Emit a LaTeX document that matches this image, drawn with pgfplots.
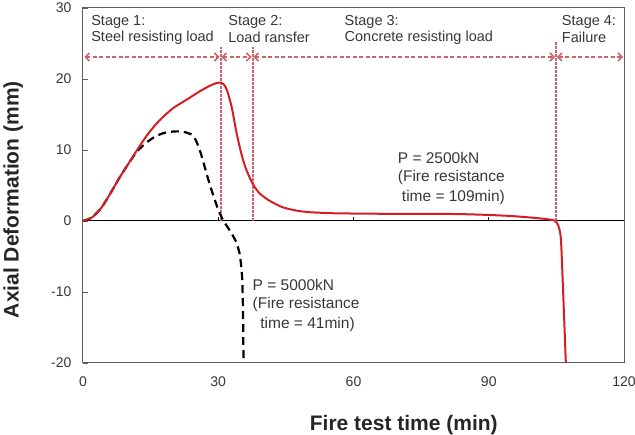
\documentclass[border=0pt]{standalone}
\usepackage{fontspec}
\setmainfont{Liberation Sans}
\usepackage{pgfplots}
\pgfplotsset{compat=1.18}
\usetikzlibrary{arrows.meta}

\definecolor{curvered}{RGB}{212,30,36}
\definecolor{stagered}{RGB}{205,100,108}
\definecolor{framegray}{RGB}{95,95,95}
\definecolor{txtgray}{RGB}{55,55,55}

\begin{document}
\begin{tikzpicture}[x=1pt,y=1pt]
\path[use as bounding box] (0,0) rectangle (635,435);
\begin{axis}[
  at={(83pt,72pt)}, anchor=south west,
  scale only axis, width=541pt, height=355pt,
  xmin=0, xmax=120, ymin=-20, ymax=30,
  xtick={0,30,60,90,120}, ytick={-20,-10,...,30},
  x tick style={draw=none},
  ytick pos=left, tick align=inside, major tick length=5pt,
  y tick style={framegray, line width=0.8pt},
  axis line style={framegray, line width=1pt},
  tick label style={font=\fontsize{14}{14}\selectfont, text=txtgray},
  /pgf/number format/assume math mode=true,
  xticklabel style={yshift=-10pt},
  yticklabel style={xshift=-8pt},
  xlabel={Fire test time (min)}, ylabel={Axial Deformation (mm)},
  label style={font=\bfseries\fontsize{21}{21}\selectfont, text=black!85},
  xlabel style={at={(axis description cs:0.593,-0.175)}, anchor=center},
  ylabel style={at={(axis description cs:-0.129,0.46)}, anchor=center},
  clip=false,
]
% zero line with its ticks
\addplot[black, line width=1pt, forget plot] coordinates {(0,0) (120,0)};
\addplot[black, line width=0.8pt, forget plot, unbounded coords=jump]
  coordinates {(30,0) (30,0.6) (30,nan) (60,0) (60,0.6) (60,nan) (90,0) (90,0.6)};

% stage boundaries
\begin{scope}[stagered, line width=2pt, dash pattern=on 2.5pt off 1.5pt]
\addplot[forget plot] coordinates {(30.5,0) (30.5,24.5)};
\addplot[forget plot] coordinates {(37.6,0) (37.6,24.5)};
\addplot[forget plot] coordinates {(104.9,0) (104.9,25.3)};
\end{scope}

% stage arrows
\begin{scope}[stagered, line width=1.6pt, dash pattern=on 4pt off 2.5pt,
  arrows={Straight Barb[length=4pt,width=8pt,line width=1.6pt]-Straight Barb[length=4pt,width=8pt,line width=1.6pt]}]
\draw (axis cs:0.3,23.1) -- (axis cs:30.3,23.1);
\draw (axis cs:30.7,23.1) -- (axis cs:37.4,23.1);
\draw (axis cs:37.8,23.1) -- (axis cs:104.7,23.1);
\draw (axis cs:105.1,23.1) -- (axis cs:119.8,23.1);
\end{scope}

% P = 5000 kN
\addplot[black, line width=2.2pt, dash pattern=on 8pt off 5pt, smooth, tension=0.4] coordinates {
(0,0) (2,0.5) (4,1.8) (6,3.8) (8,6) (10,8) (12,9.8) (14,11) (16,11.9) (18,12.4)
(20,12.6) (22,12.6) (24,12.2) (25,11.4) (26,9.8) (27,7.6) (28,5.4) (29,3.4) (30,1.6)
(31,0.2) (32,-0.8) (33,-1.8) (34,-3) (34.8,-4.8) (35.3,-8) (35.5,-13) (35.6,-20)};

% P = 2500 kN
\addplot[curvered, line width=2pt, smooth, tension=0.4] coordinates {
(0,0) (2,0.5) (4,1.8) (6,3.8) (8,6) (10,8) (12,10) (14,11.9) (16,13.5) (18,14.8)
(20,15.9) (22,16.7) (24,17.5) (26,18.3) (28,19) (29.5,19.4) (30.5,19.5) (31.3,19.2)
(32,18.3) (33,16) (34,12.6) (35,9.8) (36,7.6) (37.5,5.4) (39,4.0) (41,3.0) (44,2.0)
(47,1.5) (50,1.25) (55,1.1) (60,1.05) (70,1.0) (80,1.0) (85,0.95) (90,0.85) (95,0.7)
(100,0.45) (103,0.25) (104.6,0.05) (105.4,-0.6) (106,-2.5) (106.5,-10) (107.1,-20)};

% stage captions
\begin{scope}[every node/.style={anchor=west, inner sep=0pt, text=txtgray,
  font=\fontsize{14.5}{14.5}\selectfont}]
\node at (axis cs:1.8,28.0) {Stage 1:};
\node at (axis cs:1.8,25.8) {Steel resisting load};
\node at (axis cs:32.2,28.0) {Stage 2:};
\node at (axis cs:32.2,25.8) {Load ransfer};
\node at (axis cs:58.0,28.0) {Stage 3:};
\node at (axis cs:58.0,25.8) {Concrete resisting load};
\node at (axis cs:106.2,28.0) {Stage 4:};
\node at (axis cs:106.2,25.8) {Failure};
\end{scope}

% load annotations
\begin{scope}[every node/.style={anchor=west, inner sep=0pt, text=txtgray,
  font=\fontsize{15.5}{15.5}\selectfont}]
\node at (axis cs:69.8,8.9) {P = 2500kN};
\node at (axis cs:69.8,6.1) {(Fire resistance};
\node at (axis cs:70.7,3.3) {time = 109min)};
\node at (axis cs:37.6,-9.0) {P = 5000kN};
\node at (axis cs:37.6,-11.8) {(Fire resistance};
\node at (axis cs:39.3,-14.6) {time = 41min)};
\end{scope}
\end{axis}
\end{tikzpicture}
\end{document}
